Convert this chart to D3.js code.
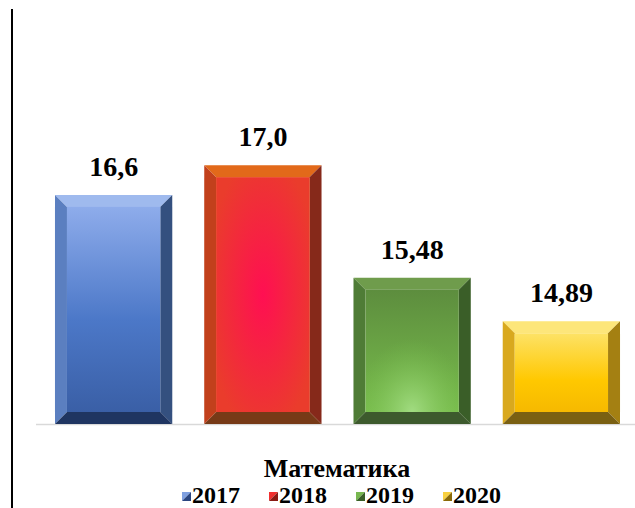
<!DOCTYPE html>
<html>
<head>
<meta charset="utf-8">
<script src="https://cdnjs.cloudflare.com/ajax/libs/d3/7.8.5/d3.min.js"></script>
<style>
  body { margin: 0; background: #fff; }
  svg { display: block; }
  text { font-family: "Liberation Serif", Tinos, "Times New Roman", Times, "DejaVu Serif", serif; font-weight: bold; }
</style>
</head>
<body>
<svg id="chart" width="635" height="508"></svg>
<script>
// data
var years = ['2017', '2018', '2019', '2020'];
var values = [16.6, 17.0, 15.48, 14.89];
var labels = ['16,6', '17,0', '15,48', '14,89'];
var subject = 'Математика';

// bevel colours per year: top, left, right, bottom, inner gradient stops
var palette = {
    '2017': { top: '#9fbaee', left: '#5b7fc0', right: '#34507f', bottom: '#1f3561',
              inner: [['0%', '#8eaceb'], ['55%', '#4c78c8'], ['100%', '#3a5fa6']], radial: null,
              mark: ['#7fa0e0', '#2a4680'] },
    '2018': { top: '#e2691a', left: '#c2401c', right: '#86291a', bottom: '#773a17',
              inner: [['0%', '#e2651d'], ['100%', '#e1581f']], radial: { cy: '50%', c0: '#ff0f52', c1: '#ea3c2c' },
              mark: ['#f03030', '#8a1a14'] },
    '2019': { top: '#6f9c4c', left: '#4f7c36', right: '#3a5e28', bottom: '#3d5a2d',
              inner: [['0%', '#5d8d3e'], ['100%', '#78bd4c']], radial: { cy: '100%', c0: '#a2dc82', c1: 'rgba(120,190,76,0)' },
              mark: ['#78b850', '#3a6028'] },
    '2020': { top: '#fde67a', left: '#d9a91e', right: '#a48012', bottom: '#7a6012',
              inner: [['0%', '#fde266'], ['60%', '#ffc800'], ['100%', '#f6b900']], radial: null,
              mark: ['#f8d040', '#8a6a08'] }
};

var W = 635, H = 508, bev = 12;
var svg = d3.select('#chart');
var defs = svg.append('defs');

var x = d3.scaleBand().domain(years).range([39, 636]).paddingInner(0.214).paddingOuter(0.107);
var y = d3.scaleLinear().domain([13.5, 18]).range([424, 91.4]);

years.forEach(function (yr) {
    var p = palette[yr];
    var lg = defs.append('linearGradient').attr('id', 'in' + yr)
        .attr('x1', 0).attr('y1', 0).attr('x2', 0).attr('y2', 1);
    p.inner.forEach(function (s) {
        lg.append('stop').attr('offset', s[0]).attr('stop-color', s[1]);
    });
    if (p.radial) {
        var rg = defs.append('radialGradient').attr('id', 'rad' + yr)
            .attr('cx', '50%').attr('cy', p.radial.cy).attr('r', '60%');
        rg.append('stop').attr('offset', '0%').attr('stop-color', p.radial.c0);
        rg.append('stop').attr('offset', '100%').attr('stop-color', p.radial.c1)
            .attr('stop-opacity', p.radial.c1.indexOf('rgba') === 0 ? 0 : 1);
    }
});

// left vertical line
svg.append('line').attr('x1', 12).attr('x2', 12).attr('y1', 9).attr('y2', H)
    .attr('stroke', '#000').attr('stroke-width', 2);

// baseline
svg.append('line').attr('x1', 36).attr('x2', W).attr('y1', y(13.5) + 0.5).attr('y2', y(13.5) + 0.5)
    .attr('stroke', '#d9d9d9').attr('stroke-width', 1.5);

var data = years.map(function (yr, i) { return { year: yr, value: values[i], label: labels[i] }; });

var bars = svg.selectAll('g.bar').data(data).enter().append('g').attr('class', 'bar');

function pts(a) { return a.map(function (q) { return q.join(','); }).join(' '); }

bars.each(function (d) {
    var g = d3.select(this), p = palette[d.year];
    var x0 = x(d.year), x1 = x0 + x.bandwidth(), y0 = y(d.value), y1 = y(13.5);
    g.append('polygon').attr('points', pts([[x0, y0], [x1, y0], [x1 - bev, y0 + bev], [x0 + bev, y0 + bev]])).attr('fill', p.top);
    g.append('polygon').attr('points', pts([[x0, y0], [x0 + bev, y0 + bev], [x0 + bev, y1 - bev], [x0, y1]])).attr('fill', p.left);
    g.append('polygon').attr('points', pts([[x1, y0], [x1, y1], [x1 - bev, y1 - bev], [x1 - bev, y0 + bev]])).attr('fill', p.right);
    g.append('polygon').attr('points', pts([[x0, y1], [x0 + bev, y1 - bev], [x1 - bev, y1 - bev], [x1, y1]])).attr('fill', p.bottom);
    g.append('rect').attr('x', x0 + bev).attr('y', y0 + bev)
        .attr('width', x1 - x0 - 2 * bev).attr('height', y1 - y0 - 2 * bev)
        .attr('fill', 'url(#in' + d.year + ')');
    if (p.radial) {
        g.append('rect').attr('x', x0 + bev).attr('y', y0 + bev)
            .attr('width', x1 - x0 - 2 * bev).attr('height', y1 - y0 - 2 * bev)
            .attr('fill', 'url(#rad' + d.year + ')');
    }
    g.append('text').attr('x', (x0 + x1) / 2).attr('y', y0 - 19)
        .attr('text-anchor', 'middle')
        .style('font-size', '28px')
        .text(d.label);
});

// title
svg.append('text').attr('x', 337).attr('y', 477).attr('text-anchor', 'middle')
    .style('font-size', '26px')
    .text(subject);

// legend
var leg = svg.selectAll('g.leg').data(years).enter().append('g').attr('class', 'leg')
    .attr('transform', function (d, i) { return 'translate(' + (182 + i * 87) + ',492)'; });
leg.append('polygon').attr('points', '0,0 9,0 0,9').attr('fill', function (d) { return palette[d].mark[0]; });
leg.append('polygon').attr('points', '9,0 9,9 0,9').attr('fill', function (d) { return palette[d].mark[1]; });
leg.append('text').attr('x', 10).attr('y', 11)
    .style('font-size', '24px')
    .text(function (d) { return d; });
</script>
</body>
</html>
